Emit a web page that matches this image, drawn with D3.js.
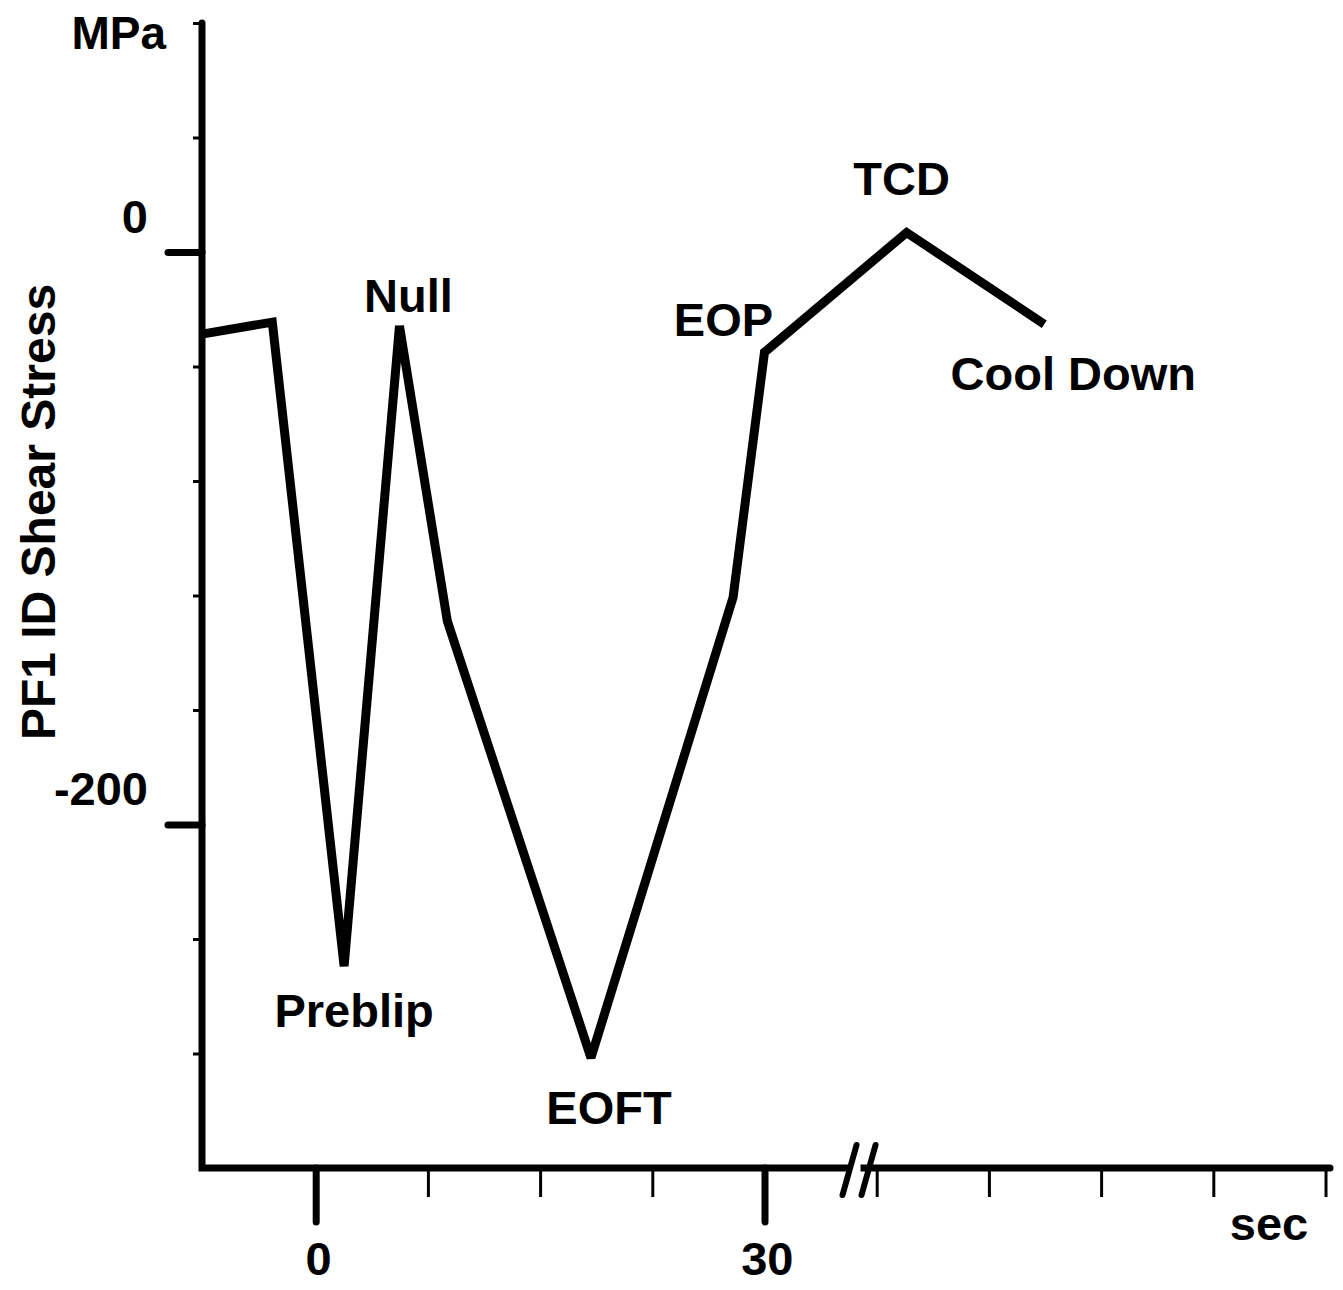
<!DOCTYPE html>
<html>
<head>
<meta charset="utf-8">
<script src="https://cdn.jsdelivr.net/npm/d3@7"></script>
<style>
body { margin: 0; background: #fff; }
text { font-family: "Liberation Sans", Arial, sans-serif; font-weight: bold; fill: #000; }
</style>
</head>
<body>
<svg class="chart" width="1343" height="1290"></svg>
<script>
// time (sec) and PF1 ID shear stress (MPa)
var times    = [-7.6, -2.9, 1.9, 5.6, 8.8, 18.4, 27.9, 30, 39.5, 48.7];
var stresses = [-28.7, -24.5, -249.5, -25.8, -129, -281.5, -120.6, -35, 6.8, -25.2];

var events = [
  {name: "Preblip",   i: 2, dx: 10,  dy: 61},
  {name: "Null",      i: 3, dx: 9,   dy: -14},
  {name: "EOFT",      i: 5, dx: 18,  dy: 66},
  {name: "EOP",       i: 7, dx: -41, dy: -16},
  {name: "TCD",       i: 8, dx: -5,  dy: -38},
  {name: "Cool Down", i: 9, dx: 29,  dy: 66}
];

var xMinorTicks = [7.5, 15, 22.5, 37.5, 45, 52.5, 60, 67.5];
var xMajorTicks = [0, 30];
var yMinorTicks = [80, 40, -40, -80, -120, -160, -240, -280];
var yMajorTicks = [0, -200];

var svg = d3.select(".chart");

var x = d3.scaleLinear().domain([-7.6, 67.8]).range([202, 1330]);
var y = d3.scaleLinear().domain([-320, 80]).range([1168, 23]);

// y axis
var yMinor = svg.append("g")
  .attr("transform", "translate(" + x.range()[0] + ",0)")
  .call(d3.axisLeft(y).tickValues(yMinorTicks).tickSize(9).tickSizeOuter(0).tickFormat(""));
yMinor.selectAll(".tick line").attr("stroke-width", 3);

var yMajor = svg.append("g")
  .attr("transform", "translate(" + x.range()[0] + ",0)")
  .call(d3.axisLeft(y).tickValues(yMajorTicks).tickSize(34).tickSizeOuter(0).tickPadding(20));
yMajor.selectAll(".tick line").attr("stroke-width", 7).attr("stroke-linecap", "round");
yMajor.selectAll(".tick text").attr("font-size", 47).attr("dy", "-0.42em")
  .text(function(d) { return d; });

// x axis
var xMinor = svg.append("g")
  .attr("transform", "translate(0," + y.range()[0] + ")")
  .call(d3.axisBottom(x).tickValues(xMinorTicks).tickSize(29).tickSizeOuter(0).tickFormat(""));
xMinor.selectAll(".tick line").attr("stroke-width", 3);

var xMajor = svg.append("g")
  .attr("transform", "translate(0," + y.range()[0] + ")")
  .call(d3.axisBottom(x).tickValues(xMajorTicks).tickSize(54).tickSizeOuter(0).tickPadding(20));
xMajor.selectAll(".tick line").attr("stroke-width", 7).attr("stroke-linecap", "round");
xMajor.selectAll(".tick text").attr("font-size", 47).attr("dx", "0.05em");

svg.selectAll(".domain").remove();

// axis lines
svg.append("path")
  .attr("d", "M" + x.range()[0] + "," + y.range()[1] + "V" + y.range()[0] + "H" + x.range()[1])
  .attr("fill", "none").attr("stroke", "#000").attr("stroke-width", 7)
  .attr("stroke-linejoin", "miter").attr("stroke-linecap", "round");

// axis break
var bx = x(35.75);
svg.append("rect").attr("x", bx - 2).attr("y", y.range()[0] - 6).attr("width", 12).attr("height", 12).attr("fill", "#fff");
[0, 19].forEach(function(o) {
  svg.append("line")
    .attr("x1", bx - 8 + o).attr("y1", y.range()[0] + 27)
    .attr("x2", bx + 6 + o).attr("y2", y.range()[0] - 23)
    .attr("stroke", "#000").attr("stroke-width", 6).attr("stroke-linecap", "round");
});

// stress trace
var pts = times.map(function(t, i) { return [t, stresses[i]]; });
var line = d3.line().x(function(d) { return x(d[0]); }).y(function(d) { return y(d[1]); });
svg.append("path")
  .datum(pts)
  .attr("d", line)
  .attr("fill", "none").attr("stroke", "#000").attr("stroke-width", 9)
  .attr("stroke-linejoin", "miter").attr("stroke-miterlimit", 2.2);

// event labels
svg.selectAll(".event")
  .data(events)
  .enter().append("text")
  .attr("class", "event")
  .attr("x", function(d) { return x(times[d.i]) + d.dx; })
  .attr("y", function(d) { return y(stresses[d.i]) + d.dy; })
  .attr("text-anchor", "middle")
  .attr("font-size", 47)
  .text(function(d) { return d.name; });

// axis titles
svg.append("text").attr("x", 166).attr("y", 49).attr("text-anchor", "end")
  .attr("font-size", 46).text("MPa");
svg.append("text").attr("x", 1269).attr("y", 1240).attr("text-anchor", "middle")
  .attr("font-size", 47).text("sec");
svg.append("text")
  .attr("transform", "translate(55,512) rotate(-90)")
  .attr("text-anchor", "middle")
  .attr("font-size", 48)
  .text("PF1 ID Shear Stress");
</script>
</body>
</html>
